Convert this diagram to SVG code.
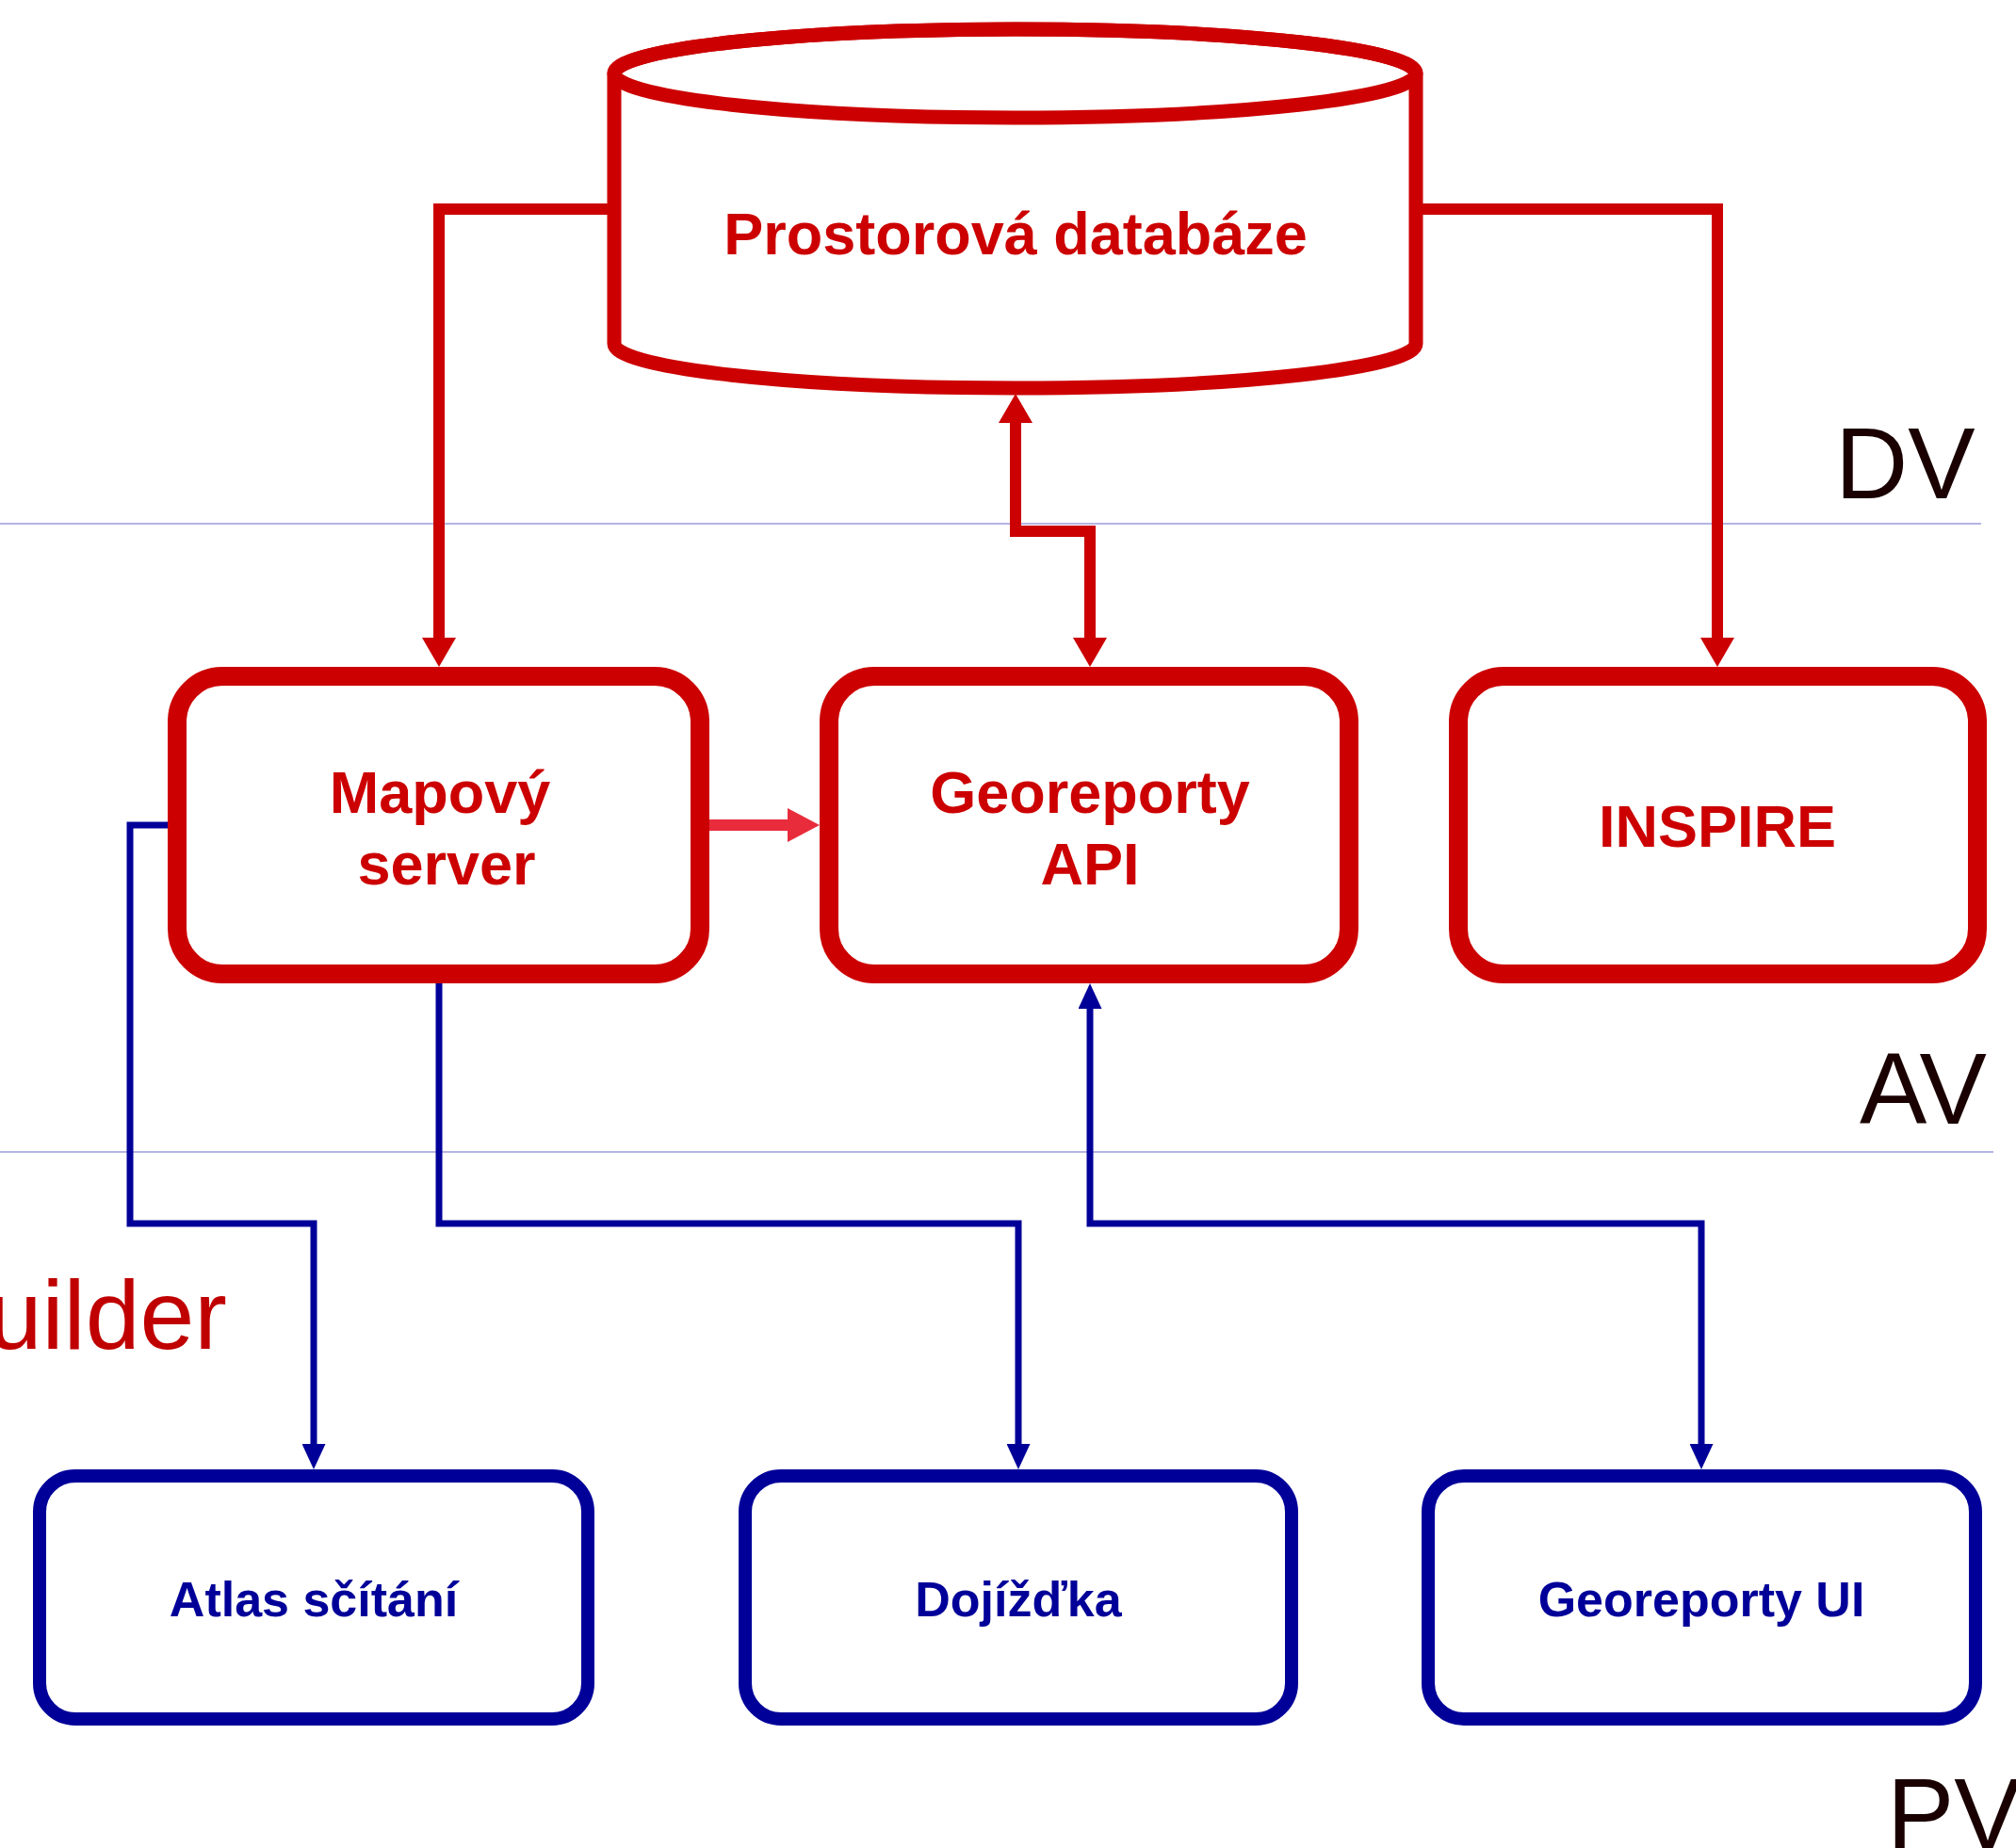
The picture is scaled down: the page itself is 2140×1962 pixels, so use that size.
<svg xmlns="http://www.w3.org/2000/svg" width="2140" height="1962" viewBox="0 0 2140 1962">
<defs>
<style>
.red{fill:#fff;stroke:#CC0000;stroke-width:20}
.cyl{fill:#fff;stroke:#CC0000;stroke-width:15}
.cyltop{fill:none;stroke:#CC0000;stroke-width:15}
.blue{fill:#fff;stroke:#000099;stroke-width:14}
.lr{font-family:"Liberation Sans",Arial,sans-serif;font-weight:bold;font-size:63px;fill:#CC0000;text-anchor:middle}
.lb{font-family:"Liberation Sans",Arial,sans-serif;font-weight:bold;font-size:52px;fill:#000099;text-anchor:middle}
.cr{fill:none;stroke:#CC0000;stroke-width:12}
.cb{fill:none;stroke:#000099;stroke-width:7}
.cp{fill:none;stroke:#E82C3C;stroke-width:12}
.div{stroke:#B4B4E4;stroke-width:2}
.lay{font-family:"Liberation Sans",Arial,sans-serif;font-size:107px;fill:#1A0000}
.bld{font-family:"Liberation Sans",Arial,sans-serif;font-size:104px;fill:#C00000;text-anchor:end}
</style>
<marker id="ar" markerUnits="userSpaceOnUse" viewBox="0 0 31 36" markerWidth="31" markerHeight="36" refX="0" refY="18" orient="auto-start-reverse"><path d="M0,0 L31,18 L0,36 z" fill="#CC0000"/></marker>
<marker id="ab" markerUnits="userSpaceOnUse" viewBox="0 0 27 25" markerWidth="27" markerHeight="25" refX="0" refY="12.5" orient="auto-start-reverse"><path d="M0,0 L27,12.5 L0,25 z" fill="#000099"/></marker>
<marker id="ap" markerUnits="userSpaceOnUse" viewBox="0 0 34 36" markerWidth="34" markerHeight="36" refX="0" refY="18" orient="auto"><path d="M0,0 L34,18 L0,36 z" fill="#E82C3C"/></marker>
</defs>
<rect width="2140" height="1962" fill="#fff"/>

<g id="layers">
<line class="div" x1="0" y1="556" x2="2103" y2="556"/>
<line class="div" x1="0" y1="1223" x2="2116" y2="1223"/>
<text class="lay" x="1948" y="529">DV</text>
<text class="lay" x="1974" y="1193">AV</text>
<text class="lay" x="2003" y="1963">PV</text>
<text class="bld" x="241" y="1432">uilder</text>
</g>

<g id="connectors">
<path class="cr" d="M652,222 H466 V677" marker-end="url(#ar)"/>
<path class="cr" d="M1503,222 H1823 V677" marker-end="url(#ar)"/>
<path class="cr" d="M1078,449 V564 H1157 V677" marker-start="url(#ar)" marker-end="url(#ar)"/>
<path class="cp" d="M752,876 H836" marker-end="url(#ap)"/>
<path class="cb" d="M188,876 H138 V1299 H333 V1533" marker-end="url(#ab)"/>
<path class="cb" d="M466,1040 V1299 H1081 V1533" marker-end="url(#ab)"/>
<path class="cb" d="M1806,1533 V1299 H1157 V1071" marker-start="url(#ab)" marker-end="url(#ab)"/>
</g>

<g id="db">
<path class="cyl" d="M652,78 A425.5,47 0 0 1 1503,78 V365 A425.5,47 0 0 1 652,365 Z"/>
<ellipse class="cyltop" cx="1077.5" cy="78" rx="425.5" ry="47"/>
<text class="lr" x="1078" y="270">Prostorová databáze</text>
</g>

<g id="mapserver">
<rect class="red" x="188" y="718" width="555" height="316" rx="48" ry="48"/>
<text class="lr" x="467" y="863">Mapový</text>
<text class="lr" x="474" y="939">server</text>
</g>

<g id="georeportyapi">
<rect class="red" x="880" y="718" width="552" height="316" rx="48" ry="48"/>
<text class="lr" x="1157" y="863">Georeporty</text>
<text class="lr" x="1157" y="939">API</text>
</g>

<g id="inspire">
<rect class="red" x="1548" y="718" width="551" height="316" rx="48" ry="48"/>
<text class="lr" x="1823" y="899">INSPIRE</text>
</g>

<g id="atlas">
<rect class="blue" x="42" y="1567" width="582" height="258" rx="38" ry="38"/>
<text class="lb" x="333" y="1716">Atlas sčítání</text>
</g>

<g id="dojizdka">
<rect class="blue" x="791" y="1567" width="580" height="258" rx="38" ry="38"/>
<text class="lb" x="1081" y="1716">Dojížďka</text>
</g>

<g id="georeportyui">
<rect class="blue" x="1516" y="1567" width="581" height="258" rx="38" ry="38"/>
<text class="lb" x="1806" y="1716">Georeporty UI</text>
</g>
</svg>
